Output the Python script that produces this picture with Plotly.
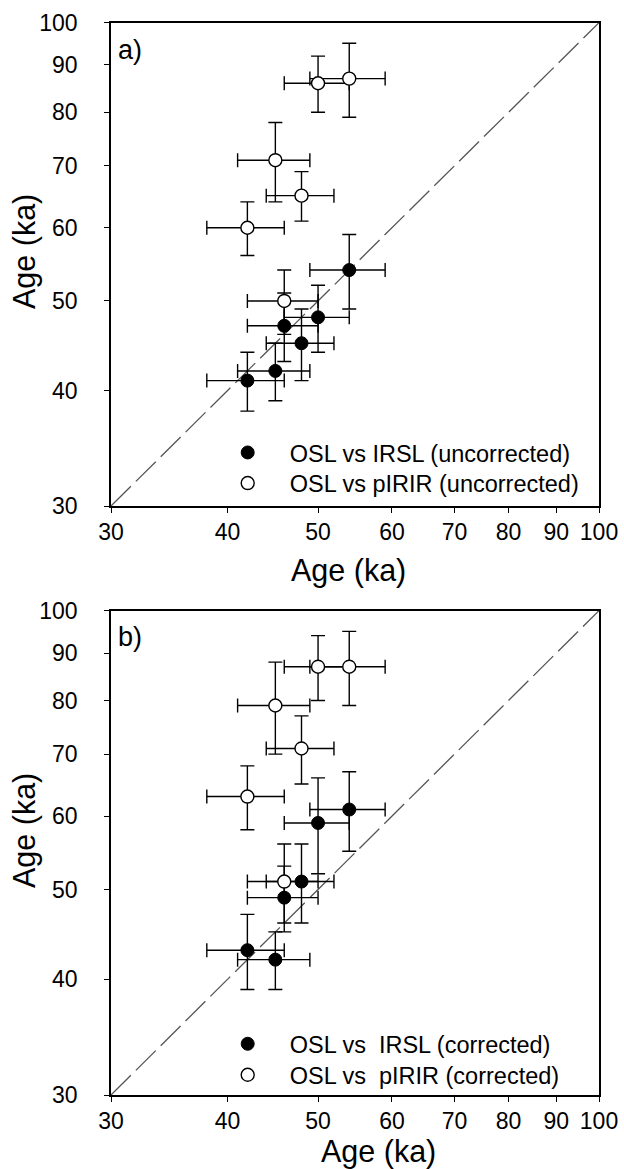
import plotly.graph_objects as go

# ---------------- data (ages in ka) ----------------
# OSL ages (x) and errors, same samples in both panels
osl_irsl_a = [42, 45, 46, 48, 50, 54]
osl_irsl_a_err = [4, 4, 4, 4, 4, 5]
irsl_unc = [41, 42, 47, 45, 48, 54]
irsl_unc_err = [3, 3, 4, 4, 4, 5]

osl_pirir_a = [42, 45, 46, 48, 50, 54]
osl_pirir_a_err = [4, 4, 4, 4, 4, 5]
pirir_unc = [60, 71, 50, 65, 86, 87]
pirir_unc_err = [4, 7, 4, 4, 6, 8]

osl_irsl_b = [42, 45, 46, 48, 50, 54]
osl_irsl_b_err = [4, 4, 4, 4, 4, 5]
irsl_cor = [43, 42, 49, 51, 59, 61]
irsl_cor_err = [4, 3, 4, 5, 7, 6]

osl_pirir_b = [42, 45, 46, 48, 50, 54]
osl_pirir_b_err = [4, 4, 4, 4, 4, 5]
pirir_cor = [63, 79, 51, 71, 87, 87]
pirir_cor_err = [5, 9, 5, 6, 7, 8]

one_to_one = [30, 100]
tick_vals = [30, 40, 50, 60, 70, 80, 90, 100]
tick_text = ["30", "40", "50", "60", "70", "80", "90", "100"]

names_a = ["OSL vs IRSL (uncorrected)", "OSL vs pIRIR (uncorrected)"]
names_b = ["OSL vs\u00a0 IRSL (corrected)", "OSL vs\u00a0 pIRIR (corrected)"]

FONT = "Arial, Liberation Sans, sans-serif"
W, H = 624, 1169


def px(xr):
    return xr / W


def py(yr):
    return (H - yr) / H


fig = go.Figure()


def err(vals):
    return dict(type="data", array=vals, symmetric=True, color="black",
                thickness=1.4, width=7)


def add_panel(xa, ya, legs, xf, xfe, yf, yfe, xo, xoe, yo, yoe, names):
    fig.add_trace(go.Scatter(
        x=one_to_one, y=one_to_one, mode="lines", xaxis=xa, yaxis=ya,
        line=dict(color="#555555", width=1.3, dash="28px,7px"),
        showlegend=False, hoverinfo="skip"))
    fig.add_trace(go.Scatter(
        x=xf, y=yf, mode="markers", xaxis=xa, yaxis=ya, name=names[0],
        legend=legs[0],
        marker=dict(size=13, color="black", line=dict(color="black", width=1)),
        error_x=err(xfe), error_y=err(yfe)))
    fig.add_trace(go.Scatter(
        x=xo, y=yo, mode="markers", xaxis=xa, yaxis=ya, name=names[1],
        legend=legs[1],
        marker=dict(size=13, color="white", line=dict(color="black", width=1.4)),
        error_x=err(xoe), error_y=err(yoe)))


add_panel("x", "y", ["legend", "legend2"], osl_irsl_a, osl_irsl_a_err, irsl_unc,
          irsl_unc_err, osl_pirir_a, osl_pirir_a_err, pirir_unc, pirir_unc_err, names_a)
add_panel("x2", "y2", ["legend3", "legend4"], osl_irsl_b, osl_irsl_b_err, irsl_cor,
          irsl_cor_err, osl_pirir_b, osl_pirir_b_err, pirir_cor, pirir_cor_err, names_b)

axis_common = dict(
    type="log", range=[1.4771213, 2.0], tickvals=tick_vals, ticktext=tick_text,
    showline=True, linecolor="black", linewidth=1.5, mirror=True,
    ticks="outside", ticklen=5, tickwidth=1, tickcolor="black",
    showgrid=False, zeroline=False, automargin=False,
    tickfont=dict(family=FONT, size=23, color="black"),
)

xdom = [px(111), px(599)]
ydom_a = [py(506), py(22.7)]
ydom_b = [py(1095), py(610.7)]


def leg(xc, yc):
    # itemwidth 74 -> symbol centre 42px from legend's left, text 84px
    return dict(x=px(xc - 42), y=py(yc), xanchor="left", yanchor="middle",
                bgcolor="rgba(0,0,0,0)", borderwidth=0, tracegroupgap=0,
                itemwidth=74, font=dict(family=FONT, size=23.5, color="black"))


fig.update_layout(
    width=W, height=H,
    margin=dict(l=0, r=0, t=0, b=0, autoexpand=False),
    paper_bgcolor="white", plot_bgcolor="white",
    font=dict(family=FONT, color="black"),
    xaxis=dict(axis_common, domain=xdom, anchor="y"),
    yaxis=dict(axis_common, domain=ydom_a, anchor="x", ticklabelstandoff=22),
    xaxis2=dict(axis_common, domain=xdom, anchor="y2"),
    yaxis2=dict(axis_common, domain=ydom_b, anchor="x2", ticklabelstandoff=22),
    legend=leg(247.7, 452.7),
    legend2=leg(247.7, 483.3),
    legend3=leg(247.7, 1044),
    legend4=leg(247.7, 1075),
    annotations=[
        dict(text="Age (ka)", x=px(348), y=py(571), xref="paper", yref="paper",
             showarrow=False, xanchor="center", yanchor="middle",
             font=dict(family=FONT, size=30.5, color="black")),
        dict(text="Age (ka)", x=px(379), y=py(1151), xref="paper", yref="paper",
             showarrow=False, xanchor="center", yanchor="middle",
             font=dict(family=FONT, size=30.5, color="black")),
        dict(text="Age (ka)", x=px(24), y=py(252), xref="paper", yref="paper",
             showarrow=False, xanchor="center", yanchor="middle", textangle=-90,
             font=dict(family=FONT, size=30.5, color="black")),
        dict(text="Age (ka)", x=px(24), y=py(831), xref="paper", yref="paper",
             showarrow=False, xanchor="center", yanchor="middle", textangle=-90,
             font=dict(family=FONT, size=30.5, color="black")),
        dict(text="a)", x=px(116), y=py(33), xref="paper", yref="paper",
             showarrow=False, xanchor="left", yanchor="top",
             font=dict(family=FONT, size=27, color="black")),
        dict(text="b)", x=px(116), y=py(620), xref="paper", yref="paper",
             showarrow=False, xanchor="left", yanchor="top",
             font=dict(family=FONT, size=27, color="black")),
    ],
)

fig.write_html(
    "out.html",
    config={"displayModeBar": False},
    post_script="document.body.style.margin='0';"
                "document.body.style.overflow='hidden';",
)
